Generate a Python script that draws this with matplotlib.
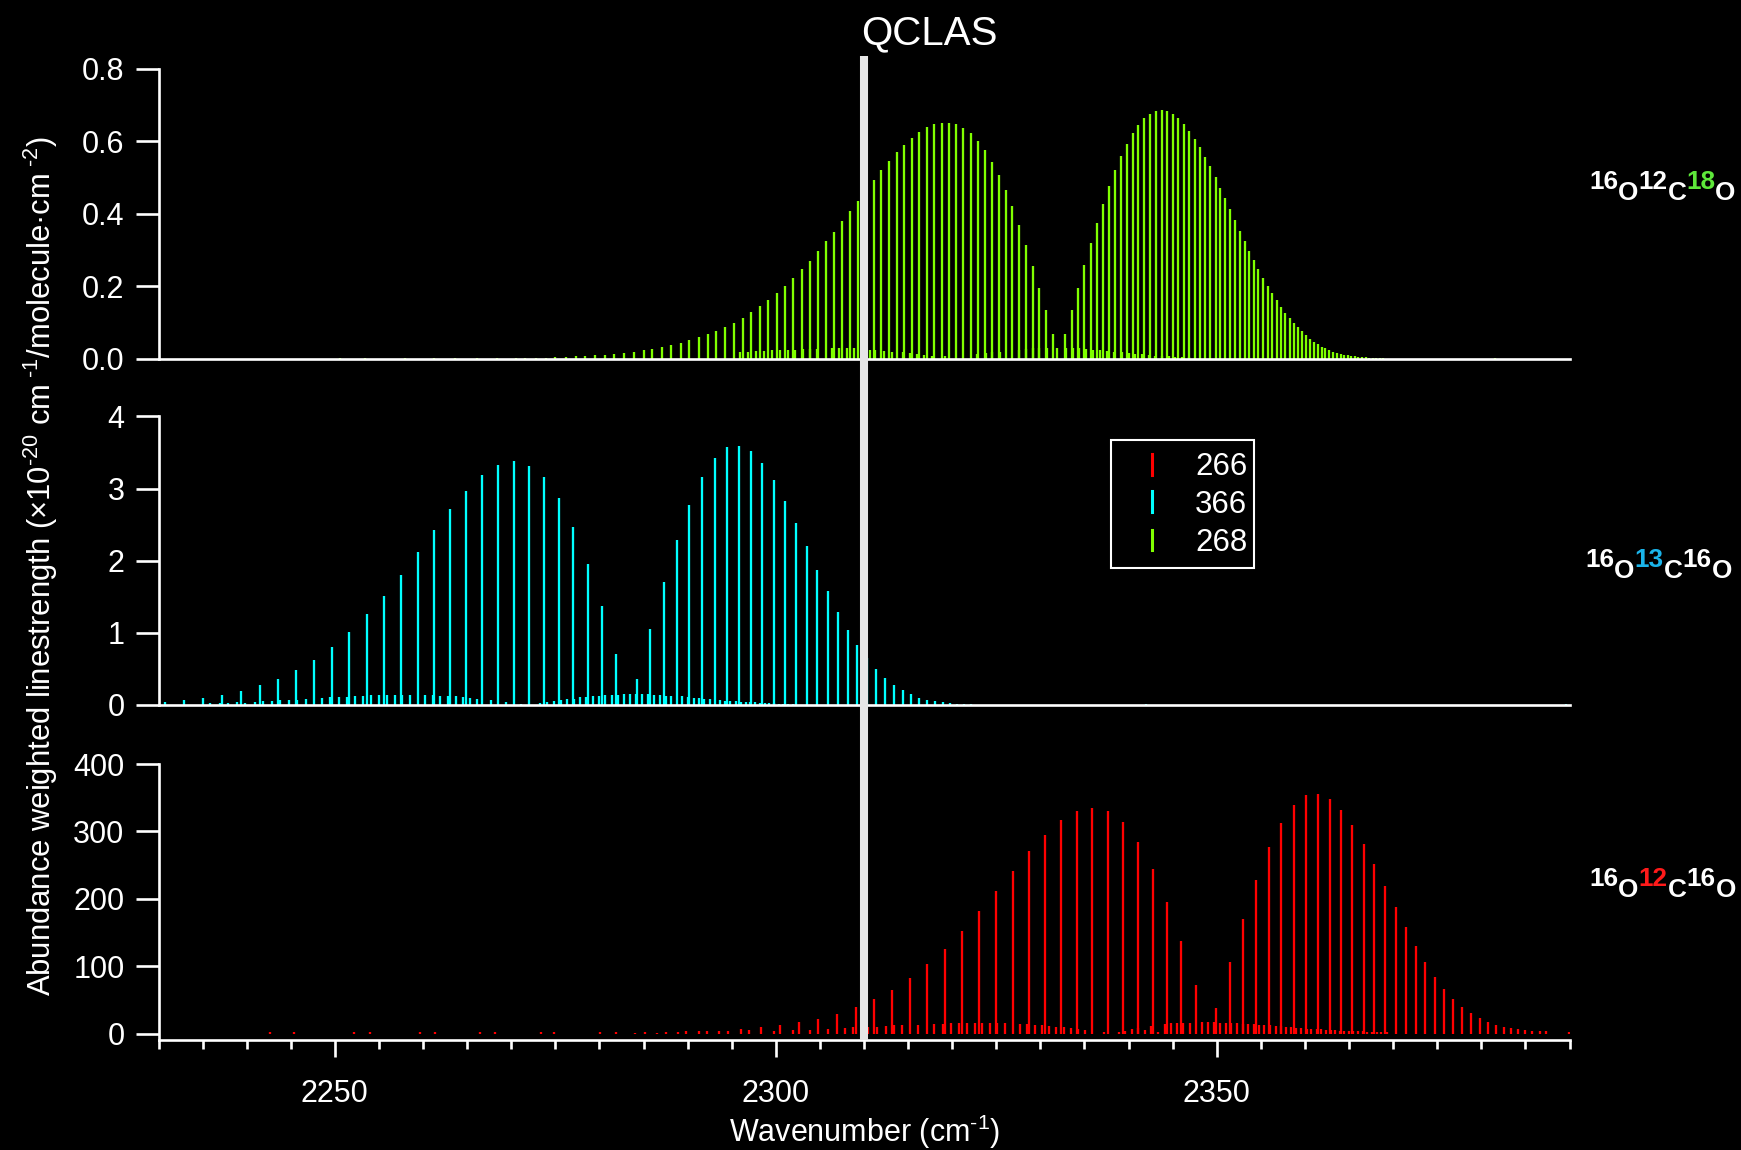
import matplotlib
matplotlib.use("Agg")
import matplotlib.pyplot as plt
from matplotlib.lines import Line2D
from matplotlib.patches import Rectangle
import matplotlib.transforms as mtransforms
import numpy as np

# ---------------- data ----------------
# 16O12C16O (266) main band lines: wavenumber (cm-1), strength
wn266 = [2284.0, 2286.5, 2288.9, 2291.3, 2293.6, 2296.0, 2298.3,
         2300.47, 2302.66, 2304.82, 2306.94, 2309.06, 2311.10, 2313.17, 2315.21,
         2317.18, 2319.18, 2321.15, 2323.08, 2325.00, 2326.86, 2328.75, 2330.56,
         2332.37, 2334.15, 2335.89, 2337.67, 2339.37, 2341.07, 2342.73, 2344.37,
         2345.98, 2347.61,
         2349.91, 2351.46, 2352.97, 2354.45, 2355.89, 2357.32, 2358.76, 2360.12,
         2361.48, 2362.84, 2364.12, 2365.37, 2366.66, 2367.86, 2369.11, 2370.29,
         2371.42, 2372.56, 2373.65, 2374.74, 2375.80, 2376.82, 2377.84, 2378.86,
         2379.81, 2380.75, 2381.66, 2382.53, 2383.36, 2384.19, 2385.00, 2385.80,
         2386.60, 2387.35, 2389.90]
s266 = [1.1, 1.6, 2.3, 3.3, 4.6, 6.5, 9.4,
        12.4, 16.8, 22.3, 29.2, 39.0, 51, 65, 83,
        103, 126, 153, 181.5, 211, 241, 270.5, 295,
        316.5, 330, 334, 330, 313.5, 285, 245, 195,
        137, 72,
        37.6, 106, 170, 227.5, 276.5, 313, 339, 353.6,
        355.6, 348.7, 332, 309, 281, 251, 219.6, 188,
        158, 130, 106, 84.6, 66.8, 52, 40, 30,
        23, 17.3, 12.9, 9.9, 7.9, 6.4, 5.4, 4.5,
        4.0, 3.5, 3.0]
# 266 weak (hot band) lines
wn266w = [2242.6, 2245.4, 2252.2, 2254.0, 2259.6, 2261.3, 2266.5, 2268.2, 2273.4,
          2274.9, 2280.1, 2281.9, 2285.2, 2287.5, 2289.8, 2292.2, 2294.6, 2297.0,
          2299.8, 2301.9, 2303.9, 2305.9, 2307.9, 2308.7,
          2310.49, 2311.51, 2312.46, 2313.40, 2314.34, 2316.16, 2317.97, 2318.92,
          2319.83, 2320.77, 2321.64, 2322.58, 2323.37, 2324.28, 2325.11, 2326.02,
          2327.69, 2328.51, 2329.39, 2330.21, 2331.01, 2331.80, 2332.68, 2333.50,
          2334.30, 2335.09, 2337.2, 2338.9, 2339.6, 2340.4, 2341.1, 2341.9, 2342.6,
          2343.3, 2344.09, 2344.81, 2345.52, 2346.20, 2346.93, 2348.33, 2349.00,
          2349.68, 2350.36, 2351.01, 2351.61, 2352.29, 2352.94, 2353.57, 2354.22,
          2354.82, 2355.39, 2356.04, 2356.68, 2357.28, 2357.85, 2358.45, 2359.02,
          2359.59, 2360.20, 2360.72, 2361.33, 2361.85, 2362.39, 2362.92, 2363.44,
          2363.97, 2364.43, 2364.96, 2365.48, 2366.01, 2366.55, 2367.07, 2367.60,
          2368.13, 2368.65, 2369.27]
s266w = [3, 3, 3, 3, 3, 3, 3, 3, 3,
         3, 3, 3, 2.5, 3, 3.5, 4, 4.5, 5,
         4, 5.4, 6, 7.4, 8.4, 9.4,
         9.4, 10.4, 10.9, 12.4, 12.4, 13.4, 14.3, 14.8,
         15.3, 15.3, 15.3, 15.8, 15.8, 15.8, 15.3, 15.3,
         14.3, 14.3, 13.4, 12.4, 11.4, 10.4, 9.4, 7.9,
         6.4, 5.4, 3, 3, 4, 7.4, 8.9, 5.4, 10.9,
         3, 14.3, 15.3, 15.3, 15.8, 16.3, 16.8, 16.8,
         16.8, 16.3, 15.8, 15.3, 15.3, 14.3, 14.3, 14.3,
         13.4, 12.4, 12.4, 11.4, 10.9, 10.4, 9.4, 8.9,
         8.4, 7.4, 7.4, 6.4, 6.4, 5.4, 5.4, 4.9,
         4.5, 4.5, 4.5, 4.0, 3.5, 3.5, 3.0, 3.0,
         2.5, 2.5, 2.5]

# 16O13C16O (366)
wn366 = [2230.74, 2232.93, 2235.08, 2237.24, 2239.39, 2241.47, 2243.59, 2245.63,
         2247.67, 2249.67, 2251.64, 2253.64, 2255.61, 2257.50, 2259.39, 2261.24,
         2263.09, 2264.91, 2266.72, 2268.50, 2270.27, 2271.97, 2273.71, 2275.38,
         2277.04, 2278.70, 2280.29, 2281.88,
         2284.22, 2285.73, 2287.28, 2288.76, 2290.19, 2291.67, 2293.06, 2294.46,
         2295.86, 2297.18, 2298.47, 2299.79, 2301.04, 2302.29, 2303.50, 2304.67,
         2305.88, 2307.05, 2308.18, 2309.20, 2310.30, 2311.40, 2312.42, 2313.40,
         2314.38, 2315.36, 2316.27, 2317.18, 2318.08, 2318.92, 2319.75, 2320.58,
         2321.37, 2322.13, 2322.85]
s366 = [0.046, 0.074, 0.097, 0.144, 0.199, 0.273, 0.366, 0.482,
        0.626, 0.802, 1.015, 1.256, 1.516, 1.808, 2.118, 2.424,
        2.711, 2.971, 3.184, 3.328, 3.379, 3.314, 3.156, 2.864,
        2.461, 1.961, 1.372, 0.705,
        0.357, 1.048, 1.701, 2.290, 2.776, 3.161, 3.430, 3.569,
        3.587, 3.518, 3.356, 3.115, 2.832, 2.521, 2.202, 1.877,
        1.576, 1.293, 1.043, 0.830, 0.649, 0.496, 0.375, 0.278,
        0.204, 0.148, 0.102, 0.074, 0.051, 0.037, 0.028, 0.019,
        0.014, 0.009, 0.005]
wn366w = [2235.88, 2236.94, 2237.88, 2238.94, 2239.85, 2240.90, 2241.85, 2242.91,
          2243.81, 2244.79, 2245.74, 2246.72, 2248.57, 2249.47, 2250.46, 2251.33,
          2252.31, 2253.14, 2254.12, 2254.95, 2255.86, 2256.77, 2257.64, 2258.51,
          2260.25, 2261.12, 2261.95, 2262.82, 2263.69, 2264.48, 2265.31, 2266.14,
          2267.73, 2269.39, 2271.13, 2273.21, 2274.08, 2274.80, 2275.67, 2276.35,
          2277.06, 2277.79, 2278.44, 2279.23, 2279.99, 2280.67, 2281.38, 2282.06,
          2282.78, 2283.50, 2284.14, 2284.86, 2285.50, 2286.18, 2286.87, 2287.55,
          2288.15, 2289.40, 2290.08, 2290.68, 2291.29, 2291.89, 2292.50, 2293.71,
          2294.27, 2294.84, 2295.45, 2296.01, 2296.58, 2297.11, 2297.68, 2298.20,
          2298.73, 2299.26, 2299.79, 2300.32, 2300.85, 2301.38, 2301.91, 2342.0,
          2389.6]
s366w = [0.032, 0.032, 0.032, 0.037, 0.032, 0.046, 0.056, 0.060,
         0.065, 0.074, 0.065, 0.083, 0.097, 0.107, 0.111, 0.116,
         0.121, 0.125, 0.134, 0.134, 0.134, 0.144, 0.144, 0.144,
         0.139, 0.139, 0.130, 0.125, 0.121, 0.116, 0.097, 0.088,
         0.070, 0.042, 0.019, 0.032, 0.042, 0.056, 0.070, 0.079,
         0.088, 0.111, 0.116, 0.121, 0.130, 0.134, 0.144, 0.144,
         0.148, 0.148, 0.148, 0.153, 0.148, 0.144, 0.139, 0.130,
         0.130, 0.121, 0.111, 0.102, 0.097, 0.088, 0.079, 0.070,
         0.060, 0.060, 0.051, 0.046, 0.042, 0.037, 0.037, 0.032,
         0.028, 0.023, 0.023, 0.019, 0.019, 0.014, 0.014, 0.02,
         0.02]

# 16O12C18O (268)
wn268 = [2270.5, 2271.6, 2272.8, 2273.9, 2275.0, 2276.2, 2277.3, 2278.4, 2279.5,
         2280.6, 2281.7, 2282.8, 2283.9, 2285.0, 2286.0, 2287.1, 2288.1, 2289.2,
         2290.2, 2291.25,
         2292.26, 2293.27, 2294.23, 2295.25, 2296.26, 2297.22, 2298.18, 2299.15,
         2300.11, 2301.07, 2301.98, 2302.94, 2303.85, 2304.76, 2305.73, 2306.64,
         2307.55, 2308.46, 2309.27, 2310.23, 2311.09, 2311.95, 2312.86, 2313.72,
         2314.58, 2315.45, 2316.25, 2317.12, 2317.98, 2318.79, 2319.65, 2320.46,
         2321.27, 2322.08, 2322.89, 2323.70, 2324.51, 2325.27, 2326.08, 2326.83,
         2327.59, 2328.35, 2329.11, 2329.87, 2330.63, 2331.39,
         2332.81, 2333.57, 2334.28, 2334.98, 2335.69, 2336.40, 2337.11, 2337.77,
         2338.48, 2339.14, 2339.79, 2340.45, 2341.11, 2341.77, 2342.43, 2343.08,
         2343.74, 2344.40, 2345.01, 2345.61, 2346.27, 2346.88, 2347.49, 2348.10,
         2348.70, 2349.26, 2349.87, 2350.42, 2350.98, 2351.54, 2352.09, 2352.65,
         2353.16, 2353.71, 2354.22, 2354.73, 2355.28, 2355.79, 2356.30, 2356.80,
         2357.26, 2357.76, 2358.27, 2358.72, 2359.18, 2359.64, 2360.09, 2360.55,
         2361.00, 2361.46, 2361.91, 2362.32, 2362.77, 2363.18, 2363.64, 2364.04,
         2364.45, 2364.85, 2365.26, 2365.66, 2366.07, 2366.47, 2366.88, 2367.28,
         2367.68, 2368.09, 2368.49, 2368.90]
s268 = [0.002, 0.002, 0.003, 0.003, 0.004, 0.005, 0.006, 0.007, 0.009,
        0.011, 0.013, 0.016, 0.019, 0.023, 0.027, 0.032, 0.038, 0.044,
        0.051, 0.059,
        0.067, 0.076, 0.087, 0.099, 0.113, 0.128, 0.144, 0.162,
        0.180, 0.200, 0.223, 0.247, 0.270, 0.296, 0.324, 0.350,
        0.379, 0.407, 0.435, 0.465, 0.493, 0.521, 0.546, 0.569,
        0.591, 0.609, 0.626, 0.638, 0.647, 0.651, 0.651, 0.647,
        0.637, 0.622, 0.601, 0.575, 0.543, 0.506, 0.466, 0.420,
        0.369, 0.314, 0.257, 0.194, 0.133, 0.067,
        0.067, 0.133, 0.196, 0.259, 0.318, 0.375, 0.428, 0.476,
        0.521, 0.558, 0.593, 0.622, 0.646, 0.663, 0.675, 0.683,
        0.685, 0.683, 0.674, 0.663, 0.648, 0.629, 0.607, 0.584,
        0.557, 0.531, 0.502, 0.472, 0.443, 0.412, 0.383, 0.353,
        0.325, 0.297, 0.271, 0.246, 0.223, 0.200, 0.180, 0.161,
        0.143, 0.127, 0.111, 0.098, 0.086, 0.075, 0.064, 0.055,
        0.046, 0.039, 0.032, 0.028, 0.023, 0.019, 0.016, 0.013,
        0.011, 0.009, 0.007, 0.006, 0.005, 0.004, 0.004, 0.003,
        0.002, 0.002, 0.001, 0.001]
wn268w = [2250.6, 2253.4, 2257.9, 2261.2, 2263.6, 2266.1, 2268.4,
          2295.96, 2296.87, 2297.73, 2298.64, 2299.60, 2300.51, 2301.37, 2302.23,
          2303.09, 2303.90, 2304.71, 2306.38, 2307.19, 2308.05, 2308.86, 2310.64,
          2311.29, 2312.31, 2313.17, 2314.43, 2315.19, 2316.05, 2316.86, 2317.72,
          2319.24, 2322.78, 2323.80, 2324.56, 2325.42, 2327.54, 2328.35, 2329.11,
          2329.87, 2330.78, 2331.90, 2332.91, 2333.72, 2334.43, 2335.19, 2335.95,
          2336.71, 2337.57, 2338.38, 2339.24, 2340.00, 2340.76, 2341.51, 2342.32,
          2343.03, 2343.79, 2344.55, 2345.31, 2346.07, 2346.83, 2347.59, 2381.5]
s268w = [0.002, 0.002, 0.002, 0.002, 0.002, 0.002, 0.002,
         0.017, 0.019, 0.021, 0.022, 0.023, 0.025, 0.025, 0.025,
         0.026, 0.026, 0.027, 0.028, 0.028, 0.029, 0.028, 0.025,
         0.023, 0.021, 0.019, 0.017, 0.015, 0.012, 0.010, 0.008,
         0.006, 0.012, 0.015, 0.017, 0.019, 0.025, 0.027, 0.028,
         0.029, 0.029, 0.028, 0.029, 0.029, 0.029, 0.027, 0.025,
         0.023, 0.021, 0.019, 0.017, 0.015, 0.014, 0.012, 0.010,
         0.008, 0.007, 0.006, 0.005, 0.005, 0.004, 0.003, 0.002]

x_range = (2230, 2390)
qclas_wn = 2310.0
legend_labels = ["266", "366", "268"]

# ---------------- style ----------------
W, H = 1741, 1150
plt.rcParams['font.family'] = ['Liberation Sans', 'DejaVu Sans']
plt.rcParams['mathtext.fontset'] = 'custom'
plt.rcParams['mathtext.rm'] = 'Liberation Sans'
plt.rcParams['mathtext.it'] = 'Liberation Sans:italic'
plt.rcParams['mathtext.bf'] = 'Liberation Sans:bold'
plt.rcParams['mathtext.default'] = 'regular'

C266 = '#ff0000'
C366 = '#00ffff'
C268 = '#80ff00'
FG = 'white'
BG = 'black'

fig = plt.figure(figsize=(W / 100, H / 100), dpi=100, facecolor=BG)


def fx(x):
    return x / W


def fy(y):
    return 1 - y / H


left = fx(158.5)
width = fx(1569.5) - fx(158.5)
ax_top = fig.add_axes([left, fy(358.6), width, fy(68.8) - fy(358.6)])
ax_mid = fig.add_axes([left, fy(705.0), width, fy(416.4) - fy(705.0)])
ax_bot = fig.add_axes([left, fy(1040.0), width, fy(764.0) - fy(1040.0)])

spine_lw = 1.9
for ax in (ax_top, ax_mid, ax_bot):
    ax.set_facecolor('none')
    ax.set_xlim(*x_range)
    for s in ('top', 'right'):
        ax.spines[s].set_visible(False)
    for s in ('left', 'bottom'):
        ax.spines[s].set_color(FG)
        ax.spines[s].set_linewidth(spine_lw)
    ax.tick_params(axis='y', direction='out', length=16.5, width=spine_lw,
                   colors=FG, labelsize=22, pad=8)

lw = 1.65
ax_top.vlines(wn268w, 0, s268w, colors=C268, lw=lw)
ax_top.vlines(wn268, 0, s268, colors=C268, lw=lw)
ax_mid.vlines(wn366w, 0, s366w, colors=C366, lw=lw)
ax_mid.vlines(wn366, 0, s366, colors=C366, lw=lw)
ax_bot.vlines(wn266w, 0, s266w, colors=C266, lw=lw)
ax_bot.vlines(wn266, 0, s266, colors=C266, lw=lw)

ax_top.set_ylim(0, 0.8)
ax_top.set_yticks([0.0, 0.2, 0.4, 0.6, 0.8])
ax_top.set_yticklabels(['0.0', '0.2', '0.4', '0.6', '0.8'])
ax_mid.set_ylim(0, 4)
ax_mid.set_yticks([0, 1, 2, 3, 4])
ax_bot.set_ylim(-9.35, 400)
ax_bot.set_yticks([0, 100, 200, 300, 400])

for ax in (ax_top, ax_mid):
    ax.tick_params(axis='x', which='both', bottom=False, labelbottom=False)

ax_bot.set_xticks([2250, 2300, 2350])
ax_bot.set_xticks(np.arange(2230, 2391, 5), minor=True)
ax_bot.tick_params(axis='x', which='major', direction='out', length=12,
                   width=spine_lw, colors=FG, labelsize=22, pad=16)
ax_bot.tick_params(axis='x', which='minor', direction='out', length=6.5,
                   width=spine_lw, colors=FG)

# vertical QCLAS marker
blend = mtransforms.blended_transform_factory(ax_bot.transData, fig.transFigure)
fig.add_artist(Line2D([qclas_wn, qclas_wn], [fy(1040.0), fy(55.5)], transform=blend,
                      color='#e6e6e6', lw=5.8, zorder=10, solid_capstyle='butt'))
fig.text(qclas_wn - 0.3, fy(44.5), 'QCLAS', transform=blend, color=FG,
         fontsize=29, ha='left', va='baseline')

# axis labels
fig.text(fx(865), fy(1132), r'Wavenumber (cm$^{\text{-1}}$)', color=FG, fontsize=22,
         ha='center', va='center')
fig.text(fx(41), fy(566),
         r'Abundance weighted linestrength (×10$^{\text{-20}}$ cm$^{\text{ -1}}$'
         r'/molecule·cm$^{\text{ -2}}$)',
         color=FG, fontsize=22.3, ha='center', va='center', rotation=90)

# legend (drawn manually)
fig.add_artist(Rectangle((fx(1110.7), fy(567.7)), fx(1254) - fx(1110.7),
                         fy(440) - fy(567.7), transform=fig.transFigure,
                         facecolor=BG, edgecolor=FG, lw=1.5, zorder=11))
for lab, col, yc, yb in zip(legend_labels, [C266, C366, C268],
                            [464.3, 501.7, 540.0], [475.0, 513.3, 550.7]):
    fig.add_artist(Line2D([fx(1151.7), fx(1151.7)], [fy(yc + 10.5), fy(yc - 10.5)],
                          transform=fig.transFigure, color=col, lw=2.2, zorder=12))
    fig.text(fx(1195), fy(yb), lab, color=FG, fontsize=22.5, ha='left',
             va='baseline', zorder=12)

# isotopologue labels on the right
renderer = fig.canvas.get_renderer()


def chem_label(x0, base, pieces):
    x = x0
    for txt, col, sup in pieces:
        y = base - (11 if sup else 0)
        t = fig.text(fx(x), fy(y), txt, color=col, fontsize=18.8, fontweight='bold',
                     ha='left', va='baseline')
        bb = t.get_window_extent(renderer=renderer)
        x += bb.width


chem_label(1589, 200.0, [('16', FG, True), ('O', FG, False), ('12', FG, True),
                         ('C', FG, False), ('18', '#5ee83a', True), ('O', FG, False)])
chem_label(1585, 578.3, [('16', FG, True), ('O', FG, False), ('13', '#1ab4ea', True),
                         ('C', FG, False), ('16', FG, True), ('O', FG, False)])
chem_label(1589, 896.7, [('16', FG, True), ('O', FG, False), ('12', '#ff1a1a', True),
                         ('C', FG, False), ('16', FG, True), ('O', FG, False)])

fig.savefig('out.png', dpi=100, facecolor=BG)
